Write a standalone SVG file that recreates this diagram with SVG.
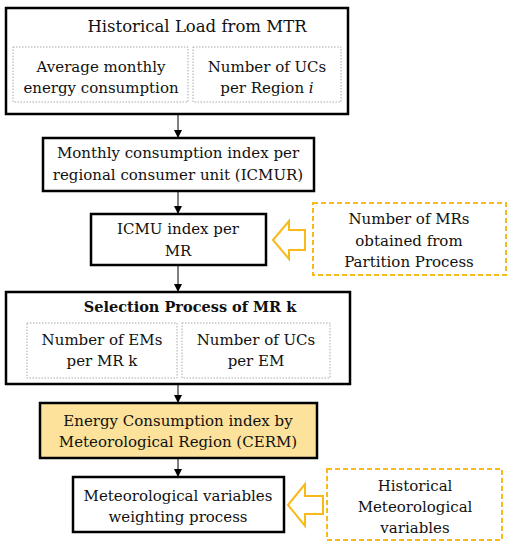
<svg xmlns="http://www.w3.org/2000/svg" width="512" height="550" viewBox="0 0 512 550">
<defs>
<marker id="ah" markerWidth="8" markerHeight="8" refX="7" refY="4" orient="auto" markerUnits="userSpaceOnUse">
<path d="M0,0 L8,4 L0,8 Z" fill="#000"/>
</marker>
<style>
.box{fill:#fff;stroke:#000;stroke-width:2.5}
.yel{fill:#FCE29B;stroke:#000;stroke-width:2.5}
.dot{fill:none;stroke:#aaa;stroke-width:1;stroke-dasharray:1.5 1.5}
.dash{fill:#fff;stroke:#F9B918;stroke-width:2;stroke-dasharray:5 3}
.hol{fill:#fff;stroke:#F9B918;stroke-width:2}
text{font-family:"DejaVu Serif","Liberation Serif",serif;font-size:15px;fill:#111;text-anchor:middle}
.b{font-weight:bold;font-size:14.5px}
.con{stroke:#000;stroke-width:1;fill:none}
</style>
</defs>
<g id="connectors">
<line class="con" x1="178" y1="114" x2="178" y2="137" marker-end="url(#ah)"/>
<line class="con" x1="178" y1="191" x2="178" y2="213" marker-end="url(#ah)"/>
<line class="con" x1="178" y1="265" x2="178" y2="291" marker-end="url(#ah)"/>
<line class="con" x1="178" y1="384" x2="178" y2="402" marker-end="url(#ah)"/>
<line class="con" x1="178" y1="458" x2="178" y2="476" marker-end="url(#ah)"/>
<path class="hol" d="M273,240 L289,221 L289,230 L305,230 L305,250 L289,250 L289,259 Z"/>
<path class="hol" d="M288,505 L305,484 L305,496 L323,496 L323,514 L305,514 L305,526 Z"/>
</g>
<g id="historical-load">
<rect class="box" x="6" y="8" width="342" height="106"/>
<text x="197" y="32" style="font-size:16.5px">Historical Load from MTR</text>
<rect class="dot" x="13" y="47" width="175" height="55"/>
<rect class="dot" x="193" y="47" width="148" height="55"/>
<text x="101" y="72">Average monthly</text>
<text x="101" y="93">energy consumption</text>
<text x="267" y="72">Number of UCs</text>
<text x="267" y="93">per Region <tspan font-style="italic">i</tspan></text>
</g>
<g id="icmur">
<rect class="box" x="43" y="138" width="271" height="53"/>
<text x="178" y="158">Monthly consumption index per</text>
<text x="178" y="180">regional consumer unit (ICMUR)</text>
</g>
<g id="icmu-mr">
<rect class="box" x="91" y="214" width="175" height="51"/>
<text x="178" y="234">ICMU index per</text>
<text x="178" y="256">MR</text>
</g>
<g id="partition">
<rect class="dash" x="313" y="203" width="193" height="72"/>
<text x="409" y="224">Number of MRs</text>
<text x="409" y="246">obtained from</text>
<text x="409" y="267">Partition Process</text>
</g>
<g id="selection">
<rect class="box" x="6" y="292" width="344" height="92"/>
<text class="b" x="190" y="312">Selection Process of MR k</text>
<rect class="dot" x="27" y="323" width="150" height="55"/>
<rect class="dot" x="182" y="323" width="148" height="55"/>
<text x="102" y="345">Number of EMs</text>
<text x="102" y="366">per MR k</text>
<text x="256" y="345">Number of UCs</text>
<text x="256" y="366">per EM</text>
</g>
<g id="cerm">
<rect class="yel" x="40" y="403" width="277" height="55"/>
<text x="178" y="426">Energy Consumption index by</text>
<text x="178" y="447">Meteorological Region (CERM)</text>
</g>
<g id="weighting">
<rect class="box" x="73" y="477" width="211" height="55"/>
<text x="178" y="501">Meteorological variables</text>
<text x="178" y="522">weighting process</text>
</g>
<g id="hist-met">
<rect class="dash" x="327" y="469" width="175" height="71"/>
<text x="415" y="491">Historical</text>
<text x="415" y="512">Meteorological</text>
<text x="415" y="533">variables</text>
</g>
</svg>
